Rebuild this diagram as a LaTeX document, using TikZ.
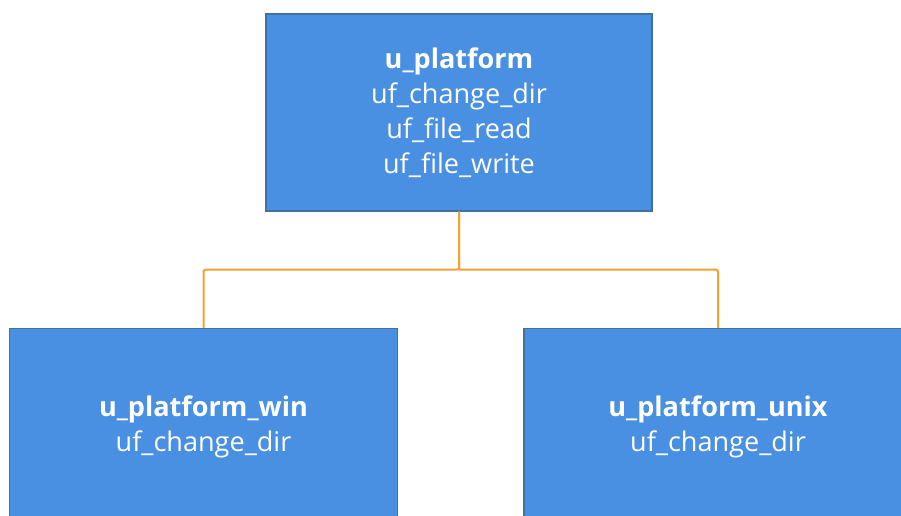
\documentclass[tikz,border=0pt]{standalone}
\usepackage{fontspec}
\setmainfont{Open Sans}
\usepackage{xcolor}
\definecolor{boxblue}{HTML}{4A90E2}
\definecolor{boxedge}{HTML}{41719C}
\definecolor{linkorange}{HTML}{F5A033}
\begin{document}
\begin{tikzpicture}[x=0.75pt,y=-0.75pt,unit/.style={draw=boxedge, line width=1.1pt, rectangle, fill=boxblue, text=white, align=center, minimum width=289.5pt, minimum height=147.75pt, font=\fontsize{20.3}{26.2}\selectfont},link/.style={draw=linkorange, line width=1.5pt, rounded corners=1.5pt}]
  \useasboundingbox (0,0) rectangle (901,515);
  \clip (0,0) rectangle (901,515);
  \node[unit] (plat) at (459,112.5) {\textbf{u\_platform}\\uf\_change\_dir\\uf\_file\_read\\uf\_file\_write};
  \node[unit, minimum width=291pt] (win) at (203.5,427) {\textbf{u\_platform\_win}\\uf\_change\_dir};
  \node[unit, minimum width=291pt] (unix) at (718,427) {\textbf{u\_platform\_unix}\\uf\_change\_dir};
  \draw[link] (plat.south) -- ++(0,58) -| (win.north);
  \draw[link] (plat.south) -- ++(0,58) -| (unix.north);
\end{tikzpicture}
\end{document}
